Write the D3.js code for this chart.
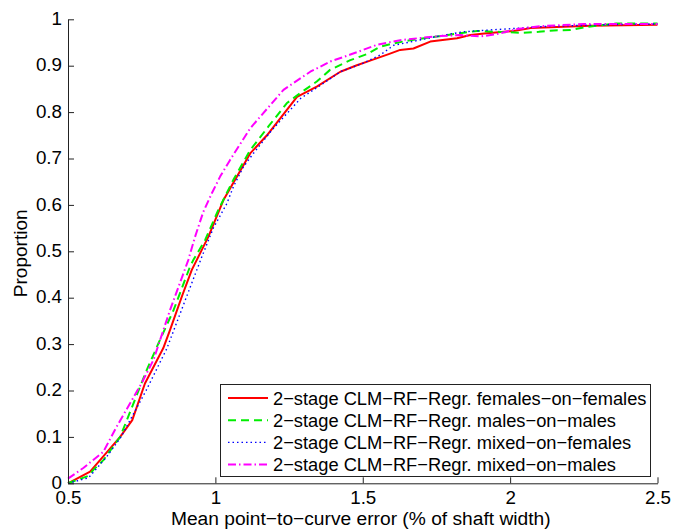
<!DOCTYPE html>
<html>
<head>
<meta charset="utf-8">
<script src="https://cdn.jsdelivr.net/npm/d3@7"></script>
<style>
  html, body { margin: 0; padding: 0; background: #fff; }
  svg { display: block; }
  text { font-family: "Liberation Sans", Arial, Helvetica, sans-serif; fill: #000; }
</style>
</head>
<body>
<svg id="chart" width="673" height="529"></svg>
<script>
// ---- Data ----
const xTicks = [0.5, 1, 1.5, 2, 2.5];
const yTicks = [0, 0.1, 0.2, 0.3, 0.4, 0.5, 0.6, 0.7, 0.8, 0.9, 1];
const xLabel = "Mean point\u2212to\u2212curve error (% of shaft width)";
const yLabel = "Proportion";

const seriesNames = [
  "2\u2212stage CLM\u2212RF\u2212Regr. females\u2212on\u2212females",
  "2\u2212stage CLM\u2212RF\u2212Regr. males\u2212on\u2212males",
  "2\u2212stage CLM\u2212RF\u2212Regr. mixed\u2212on\u2212females",
  "2\u2212stage CLM\u2212RF\u2212Regr. mixed\u2212on\u2212males"
];

const femFemX = [0.5, 0.575, 0.677, 0.718, 0.761, 0.823, 0.846, 0.886, 0.92, 0.976, 1.027, 1.118, 1.175, 1.277, 1.344, 1.424, 1.48, 1.525, 1.588, 1.627, 1.672, 1.729, 1.82, 1.865, 1.921, 2.012, 2.069, 2.273, 2.5];
const femFemY = [0, 0.025, 0.1, 0.136, 0.215, 0.291, 0.33, 0.402, 0.46, 0.531, 0.61, 0.711, 0.75, 0.833, 0.855, 0.887, 0.901, 0.911, 0.925, 0.934, 0.937, 0.952, 0.959, 0.966, 0.970, 0.975, 0.981, 0.986, 0.988];

const maleMaleX = [0.5, 0.569, 0.586, 0.62, 0.677, 0.767, 0.812, 0.858, 0.914, 0.925, 0.965, 1.01, 1.061, 1.118, 1.18, 1.242, 1.288, 1.344, 1.389, 1.458, 1.514, 1.559, 1.605, 1.66, 1.72, 1.831, 1.888, 1.955, 2.04, 2.097, 2.148, 2.205, 2.255, 2.306, 2.36, 2.5];
const maleMaleY = [0, 0.016, 0.029, 0.05, 0.1, 0.244, 0.309, 0.373, 0.467, 0.481, 0.524, 0.589, 0.654, 0.718, 0.769, 0.819, 0.841, 0.866, 0.891, 0.912, 0.925, 0.941, 0.948, 0.955, 0.96, 0.970, 0.975, 0.973, 0.971, 0.973, 0.976, 0.977, 0.983, 0.987, 0.991, 0.991];

const mixFemX = [0.5, 0.57, 0.631, 0.68, 0.765, 0.835, 0.895, 0.954, 0.993, 1.039, 1.061, 1.095, 1.129, 1.19, 1.29, 1.35, 1.424, 1.5, 1.559, 1.605, 1.66, 1.76, 1.84, 1.93, 2.01, 2.1, 2.3, 2.5];
const mixFemY = [0, 0.012, 0.057, 0.1, 0.2, 0.29, 0.39, 0.488, 0.55, 0.603, 0.639, 0.682, 0.711, 0.76, 0.83, 0.855, 0.887, 0.905, 0.923, 0.944, 0.951, 0.964, 0.973, 0.977, 0.98, 0.984, 0.988, 0.99];

const mixMaleX = [0.5, 0.552, 0.62, 0.665, 0.75, 0.79, 0.846, 0.908, 0.931, 0.959, 0.988, 1.016, 1.05, 1.118, 1.231, 1.322, 1.39, 1.458, 1.548, 1.627, 1.685, 1.76, 1.83, 1.899, 1.955, 2.023, 2.1, 2.25, 2.5];
const mixMaleY = [0.01, 0.033, 0.068, 0.122, 0.216, 0.266, 0.373, 0.481, 0.531, 0.585, 0.625, 0.661, 0.697, 0.765, 0.848, 0.887, 0.909, 0.924, 0.945, 0.955, 0.959, 0.964, 0.966, 0.963, 0.968, 0.979, 0.985, 0.99, 0.99];

const seriesX = [femFemX, maleMaleX, mixFemX, mixMaleX];
const seriesY = [femFemY, maleMaleY, mixFemY, mixMaleY];
const seriesColors = ["#ff0000", "#00ee00", "#0000ff", "#ff00ff"];
const seriesDash = [null, "8,5", "1.5,3", "8,3,1.5,3"];
const seriesWidth = [2, 2, 1.4, 2];

// ---- Layout ----
const margin = { left: 68, top: 19.3, right: 673 - 657.5, bottom: 529 - 483.3 };
const width = 673 - margin.left - margin.right;
const height = 529 - margin.top - margin.bottom;

const svg = d3.select("#chart");
const g = svg.append("g").attr("transform", `translate(${margin.left},${margin.top})`);

const x = d3.scaleLinear().domain([0.5, 2.5]).range([0, width]);
const y = d3.scaleLinear().domain([0, 1]).range([height, 0]);

// Lines
const line = d3.line().x(d => x(d[0])).y(d => y(d[1]));
seriesX.forEach((xs, i) => {
  const pts = xs.map((v, j) => [v, seriesY[i][j]]);
  g.append("path")
    .datum(pts)
    .attr("fill", "none")
    .attr("stroke", seriesColors[i])
    .attr("stroke-width", seriesWidth[i])
    .attr("stroke-dasharray", seriesDash[i])
    .attr("stroke-linejoin", "round")
    .attr("d", line);
});

// Axes (ticks inside)
const xAxis = d3.axisBottom(x).tickValues(xTicks).tickSizeInner(-6).tickSizeOuter(0)
  .tickFormat(d => String(d)).tickPadding(7);
const yAxis = d3.axisLeft(y).tickValues(yTicks).tickSizeInner(-6).tickSizeOuter(0)
  .tickFormat(d => String(d)).tickPadding(6);

const gx = g.append("g").attr("transform", `translate(0,${height})`).call(xAxis);
const gy = g.append("g").call(yAxis);
[gx, gy].forEach(a => {
  a.select(".domain").attr("stroke", "#222").attr("stroke-width", 1);
  a.selectAll(".tick line").attr("stroke", "#222").attr("stroke-width", 1);
  a.selectAll(".tick text").attr("font-size", 18.8).attr("fill", "#000")
    .style("font-family", '"Liberation Sans", Arial, sans-serif');
});
gx.selectAll(".tick text").attr("dy", "0.71em");
gy.selectAll(".tick text").attr("dy", "0.28em");

// Axis labels
svg.append("text")
  .attr("x", margin.left + width / 2 - 2)
  .attr("y", 524.5)
  .attr("text-anchor", "middle")
  .attr("font-size", 19.2)
  .text(xLabel);
svg.append("text")
  .attr("transform", `translate(27,${margin.top + height / 2 + 2}) rotate(-90)`)
  .attr("text-anchor", "middle")
  .attr("font-size", 19)
  .text(yLabel);

// Legend
const lg = svg.append("g");
lg.append("rect")
  .attr("x", 220.5).attr("y", 384.5)
  .attr("width", 430).attr("height", 92)
  .attr("fill", "#fff").attr("stroke", "#222").attr("stroke-width", 1);
seriesNames.forEach((name, i) => {
  const cy = 398 + i * 22.2;
  lg.append("line")
    .attr("x1", 228).attr("x2", 268).attr("y1", cy).attr("y2", cy)
    .attr("stroke", seriesColors[i])
    .attr("stroke-width", seriesWidth[i])
    .attr("stroke-dasharray", seriesDash[i]);
  lg.append("text")
    .attr("x", 273).attr("y", cy + 6.5)
    .attr("font-size", 18.3)
    .text(name);
});
</script>
</body>
</html>
